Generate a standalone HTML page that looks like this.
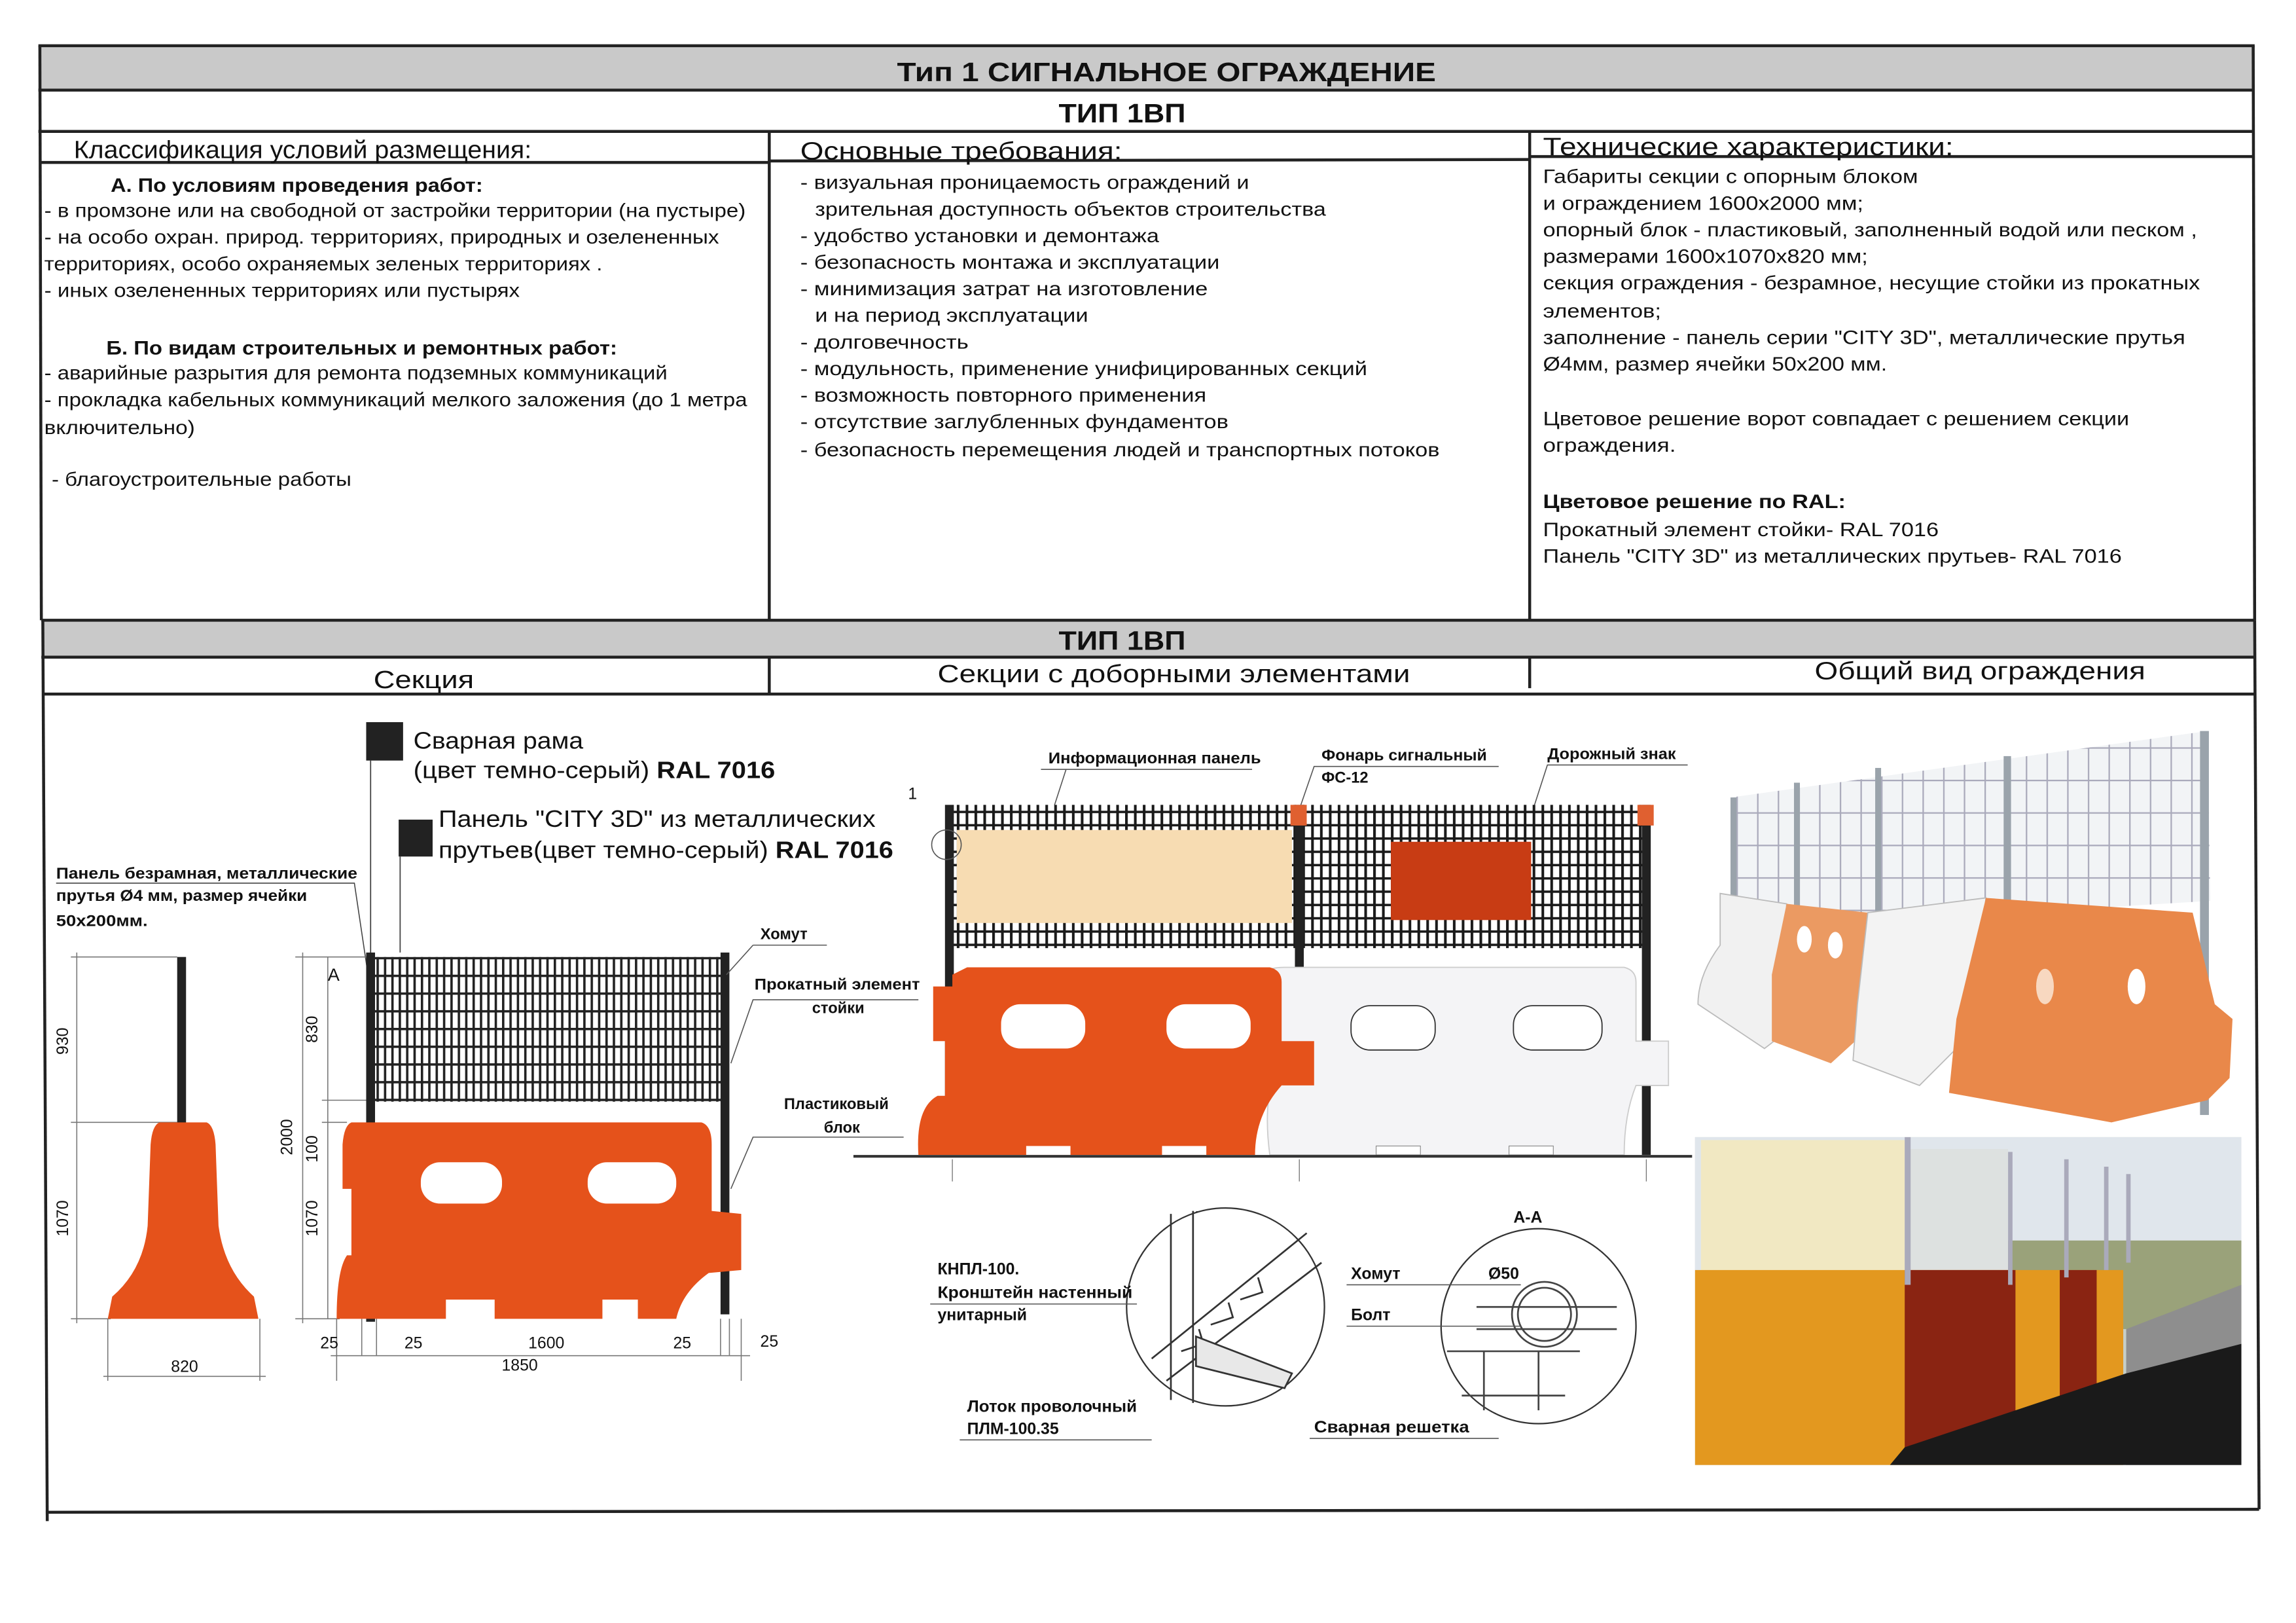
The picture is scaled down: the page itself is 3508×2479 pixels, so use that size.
<!DOCTYPE html>
<html><head><meta charset="utf-8"><style>
html,body{margin:0;padding:0;background:#fff;}
svg{display:block;}
text{font-family:"Liberation Sans",sans-serif;fill:#111;}
.t{font-size:13px;}
.h{font-size:17px;}
.s{font-size:10.5px;font-weight:bold;}
.b{font-weight:bold;}
</style></head><body>
<svg width="3508" height="2479" viewBox="0 0 1555 1099" preserveAspectRatio="none" xmlns="http://www.w3.org/2000/svg">
<defs>
<pattern id="mesh" width="5" height="12" patternUnits="userSpaceOnUse">
<rect width="5" height="12" fill="#fff"/>
<rect x="0" y="0" width="1.6" height="12" fill="#222"/>
<rect x="0" y="0" width="5" height="1.6" fill="#222"/>
</pattern>
<pattern id="mesh2" width="6" height="9" patternUnits="userSpaceOnUse">
<rect width="6" height="9" fill="#fff"/>
<rect x="0" y="0" width="1.8" height="9" fill="#1a1a1a"/>
<rect x="0" y="0" width="6" height="1.6" fill="#1a1a1a"/>
</pattern>
<pattern id="lgrid" width="14" height="22" patternUnits="userSpaceOnUse">
<rect width="14" height="22" fill="#f2f4f6"/>
<rect x="0" y="0" width="1" height="22" fill="#aab"/>
<rect x="0" y="0" width="14" height="1" fill="#aab"/>
</pattern>
</defs>

<!-- Outer frame -->
<rect x="27" y="32" width="1500" height="28" fill="#c9c9c9"/>
<rect x="29" y="421" width="1498" height="24" fill="#c9c9c9"/>
<g stroke="#222" stroke-width="2" fill="none">
<line x1="26" y1="31" x2="1527" y2="31"/>
<line x1="26" y1="61" x2="1527" y2="61"/>
<line x1="26" y1="89" x2="1527" y2="89"/>
<line x1="28" y1="110" x2="521" y2="110"/>
<line x1="521" y1="109" x2="1036" y2="108"/>
<line x1="1036" y1="106" x2="1527" y2="106"/>
<line x1="28" y1="420" x2="1527" y2="420"/>
<line x1="28" y1="445" x2="1527" y2="445"/>
<line x1="29" y1="470" x2="1527" y2="470"/>
<line x1="31" y1="1024" x2="1530" y2="1022"/>
<line x1="27" y1="31" x2="28" y2="420"/>
<line x1="29" y1="420" x2="32" y2="1030"/>
<line x1="1526" y1="31" x2="1527" y2="420"/>
<line x1="1527" y1="420" x2="1530" y2="1022"/>
<line x1="521" y1="89" x2="521" y2="420"/>
<line x1="1036" y1="89" x2="1036" y2="420"/>
<line x1="521" y1="445" x2="521" y2="470"/>
<line x1="1036" y1="445" x2="1036" y2="466"/>
</g>

<text x="790" y="55" class="b" font-size="18" text-anchor="middle" textLength="365" lengthAdjust="spacingAndGlyphs">Тип 1  СИГНАЛЬНОЕ   ОГРАЖДЕНИЕ</text>
<text x="760" y="83" class="b" font-size="18" text-anchor="middle" textLength="86" lengthAdjust="spacingAndGlyphs">ТИП 1ВП</text>
<text x="50" y="107" class="h" textLength="310" lengthAdjust="spacingAndGlyphs">Классификация условий размещения:</text>
<text x="542" y="108" class="h" textLength="218" lengthAdjust="spacingAndGlyphs">Основные требования:</text>
<text x="1045" y="105" class="h" textLength="278" lengthAdjust="spacingAndGlyphs">Технические характеристики:</text>

<!-- col1 -->
<text x="75" y="130" class="t b" textLength="252" lengthAdjust="spacingAndGlyphs">А. По условиям проведения работ:</text>
<text x="30" y="147" class="t" textLength="475" lengthAdjust="spacingAndGlyphs">- в промзоне или на свободной от застройки территории (на пустыре)</text>
<text x="30" y="165" class="t" textLength="457" lengthAdjust="spacingAndGlyphs">- на особо охран. природ. территориях, природных  и озелененных</text>
<text x="30" y="183" class="t" textLength="378" lengthAdjust="spacingAndGlyphs">территориях, особо охраняемых зеленых территориях .</text>
<text x="30" y="201" class="t" textLength="322" lengthAdjust="spacingAndGlyphs">- иных озелененных территориях или пустырях</text>
<text x="72" y="240" class="t b" textLength="346" lengthAdjust="spacingAndGlyphs">Б. По видам строительных и ремонтных работ:</text>
<text x="30" y="257" class="t" textLength="422" lengthAdjust="spacingAndGlyphs">- аварийные разрытия для ремонта подземных коммуникаций</text>
<text x="30" y="275" class="t" textLength="476" lengthAdjust="spacingAndGlyphs">- прокладка кабельных коммуникаций мелкого заложения (до 1 метра</text>
<text x="30" y="294" class="t" textLength="102" lengthAdjust="spacingAndGlyphs">включительно)</text>
<text x="35" y="329" class="t" textLength="203" lengthAdjust="spacingAndGlyphs">- благоустроительные работы</text>

<!-- col2 -->
<text x="542" y="128" class="t" textLength="304" lengthAdjust="spacingAndGlyphs">- визуальная проницаемость ограждений и</text>
<text x="552" y="146" class="t" textLength="346" lengthAdjust="spacingAndGlyphs">зрительная доступность объектов строительства</text>
<text x="542" y="164" class="t" textLength="243" lengthAdjust="spacingAndGlyphs">- удобство установки и демонтажа</text>
<text x="542" y="182" class="t" textLength="284" lengthAdjust="spacingAndGlyphs">- безопасность монтажа и эксплуатации</text>
<text x="542" y="200" class="t" textLength="276" lengthAdjust="spacingAndGlyphs">- минимизация затрат на изготовление</text>
<text x="552" y="218" class="t" textLength="185" lengthAdjust="spacingAndGlyphs">и на период эксплуатации</text>
<text x="542" y="236" class="t" textLength="114" lengthAdjust="spacingAndGlyphs">- долговечность</text>
<text x="542" y="254" class="t" textLength="384" lengthAdjust="spacingAndGlyphs">- модульность, применение унифицированных секций</text>
<text x="542" y="272" class="t" textLength="275" lengthAdjust="spacingAndGlyphs">- возможность повторного применения</text>
<text x="542" y="290" class="t" textLength="290" lengthAdjust="spacingAndGlyphs">- отсутствие заглубленных фундаментов</text>
<text x="542" y="309" class="t" textLength="433" lengthAdjust="spacingAndGlyphs">- безопасность перемещения людей и транспортных потоков</text>

<!-- col3 -->
<text x="1045" y="124" class="t" textLength="254" lengthAdjust="spacingAndGlyphs">Габариты секции с опорным блоком</text>
<text x="1045" y="142" class="t" textLength="217" lengthAdjust="spacingAndGlyphs">и ограждением  1600х2000 мм;</text>
<text x="1045" y="160" class="t" textLength="443" lengthAdjust="spacingAndGlyphs">опорный блок - пластиковый, заполненный водой или песком ,</text>
<text x="1045" y="178" class="t" textLength="220" lengthAdjust="spacingAndGlyphs">размерами 1600х1070х820 мм;</text>
<text x="1045" y="196" class="t" textLength="445" lengthAdjust="spacingAndGlyphs">секция ограждения - безрамное, несущие стойки из прокатных</text>
<text x="1045" y="215" class="t" textLength="80" lengthAdjust="spacingAndGlyphs">элементов;</text>
<text x="1045" y="233" class="t" textLength="435" lengthAdjust="spacingAndGlyphs">заполнение - панель серии "CITY 3D", металлические прутья</text>
<text x="1045" y="251" class="t" textLength="233" lengthAdjust="spacingAndGlyphs">Ø4мм, размер ячейки 50х200 мм.</text>
<text x="1045" y="288" class="t" textLength="397" lengthAdjust="spacingAndGlyphs">Цветовое решение ворот совпадает с решением секции</text>
<text x="1045" y="306" class="t" textLength="90" lengthAdjust="spacingAndGlyphs">ограждения.</text>
<text x="1045" y="344" class="t b" textLength="205" lengthAdjust="spacingAndGlyphs">Цветовое решение по RAL:</text>
<text x="1045" y="363" class="t" textLength="268" lengthAdjust="spacingAndGlyphs">Прокатный элемент стойки- RAL 7016</text>
<text x="1045" y="381" class="t" textLength="392" lengthAdjust="spacingAndGlyphs">Панель "CITY 3D" из металлических прутьев- RAL 7016</text>

<text x="760" y="440" class="b" font-size="18" text-anchor="middle" textLength="86" lengthAdjust="spacingAndGlyphs">ТИП 1ВП</text>
<text x="287" y="466" class="h" text-anchor="middle" textLength="68" lengthAdjust="spacingAndGlyphs">Секция</text>
<text x="795" y="462" class="h" text-anchor="middle" textLength="320" lengthAdjust="spacingAndGlyphs">Секции с доборными элементами</text>
<text x="1341" y="460" class="h" text-anchor="middle" textLength="224" lengthAdjust="spacingAndGlyphs">Общий вид ограждения</text>

<!-- Section labels -->
<rect x="248" y="489" width="25" height="26" fill="#222"/>
<text x="280" y="507" font-size="16" textLength="115" lengthAdjust="spacingAndGlyphs">Сварная рама</text>
<text x="280" y="527" font-size="16" textLength="245" lengthAdjust="spacingAndGlyphs">(цвет темно-серый) <tspan font-weight="bold">RAL 7016</tspan></text>
<rect x="270" y="555" width="23" height="25" fill="#222"/>
<text x="297" y="560" font-size="16" textLength="296" lengthAdjust="spacingAndGlyphs">Панель "CITY 3D" из металлических</text>
<text x="297" y="581" font-size="16" textLength="308" lengthAdjust="spacingAndGlyphs">прутьев(цвет темно-серый) <tspan font-weight="bold">RAL 7016</tspan></text>
<line x1="251" y1="515" x2="251" y2="648" stroke="#444" stroke-width="0.8"/>
<line x1="271" y1="580" x2="271" y2="645" stroke="#444" stroke-width="0.8"/>
<text x="38" y="595" class="s" textLength="204" lengthAdjust="spacingAndGlyphs">Панель безрамная, металлические</text>
<text x="38" y="610" class="s" textLength="170" lengthAdjust="spacingAndGlyphs">прутья Ø4 мм, размер ячейки</text>
<text x="38" y="627" class="s" textLength="62" lengthAdjust="spacingAndGlyphs">50х200мм.</text>
<polyline points="38,598 240,598 250,665" fill="none" stroke="#444" stroke-width="0.7"/>

<!-- side view -->
<g stroke="#777" stroke-width="0.7" fill="none">
<line x1="48" y1="648" x2="120" y2="648"/><line x1="48" y1="760" x2="120" y2="760"/><line x1="48" y1="893" x2="75" y2="893"/>
<line x1="52" y1="645" x2="52" y2="896"/>
<line x1="73" y1="893" x2="73" y2="935"/><line x1="176" y1="893" x2="176" y2="935"/><line x1="70" y1="932" x2="180" y2="932"/>
</g>
<text font-size="11" transform="translate(46,705) rotate(-90)" text-anchor="middle">930</text>
<text font-size="11" transform="translate(46,825) rotate(-90)" text-anchor="middle">1070</text>
<text x="125" y="929" font-size="11" text-anchor="middle">820</text>
<rect x="120" y="648" width="6" height="115" fill="#222"/>
<path d="M108,760 L140,760 Q145,762 146,775 L148,830 Q152,860 172,878 L175,893 L73,893 L76,878 Q97,860 100,830 L102,775 Q103,762 108,760Z" fill="#e5521b"/>

<!-- front view -->
<g stroke="#777" stroke-width="0.7" fill="none">
<line x1="200" y1="648" x2="250" y2="648"/><line x1="200" y1="893" x2="230" y2="893"/>
<line x1="205" y1="645" x2="205" y2="896"/><line x1="222" y1="648" x2="222" y2="893"/>
<line x1="218" y1="745" x2="250" y2="745"/><line x1="218" y1="760" x2="235" y2="760"/>
<line x1="228" y1="893" x2="228" y2="935"/><line x1="502" y1="893" x2="502" y2="935"/><line x1="224" y1="918" x2="508" y2="918"/>
<line x1="245" y1="893" x2="245" y2="918"/><line x1="255" y1="893" x2="255" y2="918"/><line x1="488" y1="893" x2="488" y2="918"/><line x1="494" y1="893" x2="494" y2="918"/>
<line x1="255" y1="775" x2="480" y2="775"/>
</g>
<text font-size="11" transform="translate(198,770) rotate(-90)" text-anchor="middle">2000</text>
<text font-size="11" transform="translate(215,697) rotate(-90)" text-anchor="middle">830</text>
<text font-size="11" transform="translate(215,778) rotate(-90)" text-anchor="middle">100</text>
<text font-size="11" transform="translate(215,825) rotate(-90)" text-anchor="middle">1070</text>
<text x="370" y="771" font-size="11" text-anchor="middle">1550</text>
<text x="223" y="913" font-size="11" text-anchor="middle">25</text>
<text x="280" y="913" font-size="11" text-anchor="middle">25</text>
<text x="370" y="913" font-size="11" text-anchor="middle">1600</text>
<text x="462" y="913" font-size="11" text-anchor="middle">25</text>
<text x="521" y="912" font-size="11" text-anchor="middle">25</text>
<text x="352" y="928" font-size="11" text-anchor="middle">1850</text>
<text x="222" y="664" font-size="12">A</text><text x="272" y="664" font-size="12">A</text>
<rect x="253" y="648" width="237" height="98" fill="url(#mesh)"/>
<rect x="248" y="645" width="6" height="250" fill="#222"/>
<rect x="488" y="645" width="6" height="245" fill="#222"/>
<path d="M238,760 L475,760 Q482,762 482,775 L482,820 L502,822 L502,860 L480,862 Q462,875 458,893 L432,893 L432,880 L408,880 L408,893 L335,893 L335,880 L302,880 L302,893 L228,893 Q228,860 235,850 L238,850 L238,805 L232,805 L232,775 Q233,762 238,760Z" fill="#e5521b"/>
<rect x="285" y="787" width="55" height="28" rx="13" fill="#fff"/>
<rect x="398" y="787" width="60" height="28" rx="13" fill="#fff"/>
<text x="515" y="636" class="s">Хомут</text>
<line x1="510" y1="640" x2="560" y2="640" stroke="#555" stroke-width="0.7"/>
<line x1="510" y1="640" x2="492" y2="660" stroke="#555" stroke-width="0.7"/>
<text x="511" y="670" class="s" textLength="112" lengthAdjust="spacingAndGlyphs">Прокатный элемент</text>
<text x="550" y="686" class="s">стойки</text>
<polyline points="622,677 510,677 495,720" fill="none" stroke="#555" stroke-width="0.7"/>
<text x="531" y="751" class="s">Пластиковый</text>
<text x="558" y="767" class="s">блок</text>
<polyline points="612,770 510,770 495,805" fill="none" stroke="#555" stroke-width="0.7"/>

<!-- middle elevation -->
<text x="710" y="517" class="s" textLength="144" lengthAdjust="spacingAndGlyphs">Информационная панель</text>
<line x1="705" y1="521" x2="848" y2="521" stroke="#555" stroke-width="0.7"/>
<line x1="722" y1="521" x2="690" y2="620" stroke="#555" stroke-width="0.7"/>
<text x="895" y="515" class="s" textLength="112" lengthAdjust="spacingAndGlyphs">Фонарь сигнальный</text>
<text x="895" y="530" class="s">ФС-12</text>
<polyline points="1015,519 890,519 880,548" fill="none" stroke="#555" stroke-width="0.7"/>
<text x="1048" y="514" class="s" textLength="87" lengthAdjust="spacingAndGlyphs">Дорожный знак</text>
<polyline points="1143,518 1048,518 1028,580" fill="none" stroke="#555" stroke-width="0.7"/>
<text x="615" y="541" font-size="11">1</text>
<rect x="645" y="545" width="470" height="97" fill="url(#mesh2)"/>
<rect x="648" y="562" width="227" height="63" fill="#f7dcb2"/>
<rect x="942" y="570" width="95" height="53" fill="#c83c14"/>
<rect x="640" y="545" width="6" height="237" fill="#222"/>
<rect x="877" y="545" width="6" height="237" fill="#222"/>
<rect x="1112" y="545" width="6" height="237" fill="#222"/>
<rect x="874" y="545" width="11" height="14" fill="#e06030"/>
<rect x="1109" y="545" width="11" height="14" fill="#e06030"/>
<circle cx="641" cy="572" r="10" fill="none" stroke="#555" stroke-width="0.7"/>
<path d="M855,662 Q856,655 870,655 L1100,655 Q1108,657 1108,665 L1108,705 L1130,705 L1130,735 L1108,735 Q1100,755 1100,782 L860,782 Q855,745 865,720 L865,665Z" fill="#f4f4f6" stroke="#ccc" stroke-width="0.8"/>
<rect x="915" y="681" width="57" height="30" rx="13" fill="#fff" stroke="#333" stroke-width="0.8"/>
<rect x="1025" y="681" width="60" height="30" rx="13" fill="#fff" stroke="#333" stroke-width="0.8"/>
<path d="M655,655 L860,655 Q868,657 868,665 L868,705 L890,705 L890,735 L868,735 Q850,755 850,782 L622,782 Q620,750 635,742 L640,742 L640,705 L632,705 L632,668 L645,668 L645,660Z" fill="#e5521b"/>
<rect x="678" y="680" width="57" height="30" rx="13" fill="#fff"/>
<rect x="790" y="680" width="57" height="30" rx="13" fill="#fff"/>
<rect x="695" y="776" width="30" height="6" fill="#fff"/><rect x="787" y="776" width="30" height="6" fill="#fff"/>
<rect x="932" y="776" width="30" height="6" fill="#fff" stroke="#888" stroke-width="0.5"/><rect x="1022" y="776" width="30" height="6" fill="#fff" stroke="#888" stroke-width="0.5"/>
<line x1="578" y1="783" x2="1146" y2="783" stroke="#333" stroke-width="1.8"/>
<g stroke="#777" stroke-width="0.6"><line x1="645" y1="785" x2="645" y2="800"/><line x1="880" y1="785" x2="880" y2="800"/><line x1="1115" y1="785" x2="1115" y2="800"/></g>

<!-- details -->
<text x="810" y="828" font-size="11" class="b">Узел 1</text>
<line x1="810" y1="832" x2="850" y2="832" stroke="#555" stroke-width="0.7"/>
<text x="1025" y="828" font-size="11" class="b">А-А</text>
<circle cx="830" cy="885" r="67" fill="#fff" stroke="#333" stroke-width="1"/>
<g stroke="#333" stroke-width="1.2" fill="none">
<line x1="793" y1="822" x2="793" y2="948"/><line x1="808" y1="820" x2="808" y2="950"/>
<line x1="780" y1="920" x2="885" y2="835"/><line x1="790" y1="935" x2="895" y2="855"/>
<path d="M800,915 l15,-5 l-3,-10 M820,897 l15,-5 l-3,-10 M840,880 l15,-5 l-3,-10"/>
<path d="M810,905 L875,930 L870,940 L810,925Z" fill="#e8e8e8"/>
</g>
<circle cx="1042" cy="898" r="66" fill="#fff" stroke="#333" stroke-width="1"/>
<g stroke="#444" stroke-width="1.2" fill="none">
<circle cx="1046" cy="890" r="22"/><circle cx="1046" cy="890" r="18"/>
<line x1="1000" y1="885" x2="1095" y2="885"/><line x1="1000" y1="900" x2="1095" y2="900"/>
<line x1="980" y1="915" x2="1070" y2="915"/><line x1="990" y1="945" x2="1060" y2="945"/>
<line x1="1005" y1="915" x2="1005" y2="955"/><line x1="1042" y1="915" x2="1042" y2="955"/>
</g>
<text x="635" y="863" font-size="11" class="b">КНПЛ-100.</text>
<text x="635" y="879" font-size="11" class="b" textLength="132" lengthAdjust="spacingAndGlyphs">Кронштейн настенный</text>
<line x1="630" y1="883" x2="770" y2="883" stroke="#555" stroke-width="0.7"/>
<text x="635" y="894" font-size="11" class="b">унитарный</text>
<text x="655" y="956" font-size="11" class="b" textLength="115" lengthAdjust="spacingAndGlyphs">Лоток проволочный</text>
<text x="655" y="971" font-size="11" class="b">ПЛМ-100.35</text>
<line x1="650" y1="975" x2="780" y2="975" stroke="#555" stroke-width="0.7"/>
<text x="915" y="866" font-size="11" class="b">Хомут</text>
<line x1="912" y1="870" x2="1030" y2="870" stroke="#555" stroke-width="0.7"/>
<text x="1008" y="866" font-size="11" class="b">Ø50</text>
<text x="915" y="894" font-size="11" class="b">Болт</text>
<line x1="912" y1="898" x2="1030" y2="898" stroke="#555" stroke-width="0.7"/>
<text x="890" y="970" font-size="11" class="b" textLength="105" lengthAdjust="spacingAndGlyphs">Сварная решетка</text>
<line x1="887" y1="974" x2="1015" y2="974" stroke="#555" stroke-width="0.7"/>

<!-- photo 1 -->
<polygon points="1172,540 1495,495 1497,610 1172,630" fill="url(#lgrid)"/>
<g fill="#9aa3ab">
<rect x="1172" y="540" width="4" height="100"/><rect x="1215" y="530" width="4" height="110"/>
<rect x="1270" y="520" width="4" height="110"/><rect x="1357" y="512" width="5" height="110"/>
<rect x="1490" y="495" width="6" height="260"/>
</g>
<path d="M1165,605 L1210,612 L1208,700 L1195,710 L1150,680 Q1150,660 1165,640Z" fill="#f1f1f1" stroke="#bbb" stroke-width="0.8"/>
<path d="M1210,612 L1265,618 L1262,700 L1240,720 L1200,705 L1200,660Z" fill="#eb9a62"/>
<path d="M1265,618 L1345,608 L1335,700 L1300,735 L1255,718 L1258,680Z" fill="#f3f3f3" stroke="#bbb" stroke-width="0.8"/>
<path d="M1345,608 L1485,618 L1500,680 L1512,690 L1510,730 L1495,745 L1430,760 L1320,740 L1325,690Z" fill="#e9884a"/>
<ellipse cx="1243" cy="640" rx="5" ry="9" fill="#fff"/><ellipse cx="1222" cy="636" rx="5" ry="9" fill="#fff"/>
<ellipse cx="1385" cy="668" rx="6" ry="12" fill="#f8d8c0"/><ellipse cx="1447" cy="668" rx="6" ry="12" fill="#fff"/>

<!-- photo 2 -->
<rect x="1148" y="770" width="370" height="222" fill="#c6cfc8"/>
<rect x="1148" y="770" width="370" height="130" fill="#e0e6ec"/>
<rect x="1360" y="840" width="158" height="60" fill="#9aa27a"/>
<polygon points="1440,900 1518,870 1518,992 1440,992" fill="#8e8e8e"/>
<rect x="1152" y="772" width="138" height="112" fill="#f1e8c2"/>
<rect x="1292" y="778" width="68" height="98" fill="#dde1e0"/>
<rect x="1148" y="860" width="290" height="132" fill="#e3981f"/>
<rect x="1290" y="860" width="75" height="120" fill="#8a2412"/>
<rect x="1395" y="860" width="25" height="90" fill="#8a2412"/>
<polygon points="1280,992 1518,992 1518,910 1440,930 1290,980" fill="#1a1a1a"/>
<g fill="#aab"><rect x="1290" y="770" width="4" height="100"/><rect x="1360" y="780" width="3" height="90"/><rect x="1398" y="785" width="3" height="80"/><rect x="1425" y="790" width="3" height="70"/><rect x="1440" y="795" width="3" height="60"/></g>
</svg>
</body></html>
